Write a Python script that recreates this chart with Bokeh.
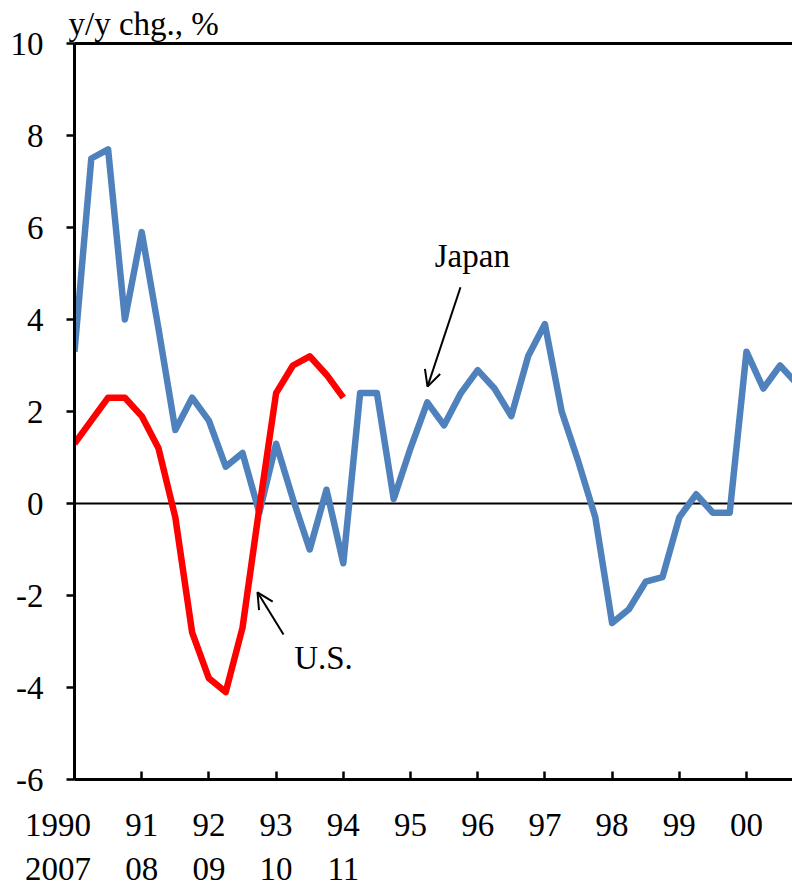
import numpy as np
from bokeh.plotting import figure
from bokeh.models import (Range1d, LinearAxis, FixedTicker, Span, Label, Arrow, OpenHead)
from bokeh.embed import file_html
from bokeh.resources import INLINE

# ---- data (y/y % change, quarterly) ----
japan_start = 1990
japan_vals = [3.3, 7.5, 7.7, 4.0,
              5.9, 3.8, 1.6, 2.3,
              1.8, 0.8, 1.1, -0.2,
              1.3, 0.1, -1.0, 0.3,
              -1.3, 2.4, 2.4, 0.1,
              1.2, 2.2, 1.7, 2.4,
              2.9, 2.5, 1.9, 3.2,
              3.9, 2.0, 0.9, -0.3,
              -2.6, -2.3, -1.7, -1.6,
              -0.3, 0.2, -0.2, -0.2,
              3.3, 2.5, 3.0, 2.6]
us_start = 2007
us_vals = [1.3, 1.8, 2.3, 2.3,
           1.9, 1.2, -0.3, -2.8,
           -3.8, -4.1, -2.7, -0.1,
           2.4, 3.0, 3.2, 2.8,
           2.3]
year_ticks = [1990, 1991, 1992, 1993, 1994, 1995, 1996, 1997, 1998, 1999, 2000]
japan_labels = ["1990", "91", "92", "93", "94", "95", "96", "97", "98", "99", "00"]
us_labels = ["2007", "08", "09", "10", "11"]
y_ticks = [-6, -4, -2, 0, 2, 4, 6, 8, 10]
y_labels = ["-6", "-4", "-2", "0", "2", "4", "6", "8", "10"]

FONT = "Liberation Serif"
FS = "33px"
NB = "\u00a0"

x_jp = japan_start + np.arange(len(japan_vals)) / 4.0
# U.S. series is plotted on the same axis, shifted so that 2007 sits at 1990
x_us = japan_start + np.arange(len(us_vals)) / 4.0

H = 889
p = figure(width=792, height=H, output_backend="svg", toolbar_location=None,
           x_range=Range1d(1990, 1990 + 718 / 67.2), y_range=Range1d(-6, 10),
           x_axis_type=None, y_axis_type=None,
           min_border_left=74, min_border_right=0, min_border_top=43, min_border_bottom=H - 779)
p.outline_line_color = None
p.xgrid.visible = False
p.ygrid.visible = False
p.background_fill_color = "white"

# unit label as title
p.title.text = "y/y chg., %"
p.title.text_font = FONT
p.title.text_font_size = FS
p.title.text_font_style = "normal"
p.title.text_color = "black"
p.title.align = "left"
p.title.offset = -6
p.title.standoff = 4

# left axis
yax = LinearAxis(ticker=FixedTicker(ticks=y_ticks))
yax.major_label_overrides = {t: s for t, s in zip(y_ticks, y_labels)}
yax.axis_line_width = 3
yax.axis_line_color = "black"
yax.major_tick_out = 8
yax.major_tick_in = 0
yax.major_tick_line_width = 2.5
yax.minor_tick_line_color = None
yax.major_label_text_font = FONT
yax.major_label_text_font_size = FS
yax.major_label_text_color = "black"
yax.major_label_standoff = 23
p.add_layout(yax, "left")

# bottom axis: Japan years (ticks inside)
xax = LinearAxis(ticker=FixedTicker(ticks=year_ticks))
labels1 = list(japan_labels)
labels1[0] = japan_labels[0] + NB * 4
xax.major_label_overrides = {t: s for t, s in zip(year_ticks, labels1)}
xax.axis_line_width = 3
xax.axis_line_color = "black"
xax.major_tick_in = 8
xax.major_tick_out = 0
xax.major_tick_line_width = 2.5
xax.minor_tick_line_color = None
xax.major_label_text_font = FONT
xax.major_label_text_font_size = FS
xax.major_label_text_color = "black"
xax.major_label_standoff = 27
p.add_layout(xax, "below")

# second row: U.S. years
us_ticks = year_ticks[:len(us_labels)]
xax2 = LinearAxis(ticker=FixedTicker(ticks=us_ticks))
labels2 = list(us_labels)
labels2[0] = us_labels[0] + NB * 4
xax2.major_label_overrides = {t: s for t, s in zip(us_ticks, labels2)}
xax2.axis_line_color = None
xax2.major_tick_line_color = None
xax2.minor_tick_line_color = None
xax2.major_tick_in = 0
xax2.major_tick_out = 0
xax2.major_label_text_font = FONT
xax2.major_label_text_font_size = FS
xax2.major_label_text_color = "black"
xax2.major_label_standoff = 5
p.add_layout(xax2, "below")

# top border
tax = LinearAxis(ticker=FixedTicker(ticks=[]))
tax.axis_line_width = 3
tax.axis_line_color = "black"
tax.major_tick_line_color = None
tax.minor_tick_line_color = None
tax.major_tick_in = 0
tax.major_tick_out = 0
tax.major_label_standoff = 0
tax.major_label_text_font_size = "1px"
p.add_layout(tax, "above")

# zero line
p.add_layout(Span(location=0, dimension="width", line_color="black", line_width=2, level="underlay"))

p.line(x_jp, japan_vals, line_color="#4F81BD", line_width=6.5, line_join="round")
p.line(x_us, us_vals, line_color="#FF0000", line_width=6.5, line_join="round")

# annotations
p.add_layout(Label(x=1995.92, y=5.37, text="Japan", text_align="center", text_baseline="middle",
                   text_font=FONT, text_font_size=FS, text_color="black"))
p.add_layout(Arrow(x_start=1995.744, y_start=4.70, x_end=1995.253, y_end=2.54,
                   line_width=2, line_color="black",
                   end=OpenHead(size=16, line_width=2, line_color="black")))
p.add_layout(Label(x=1993.705, y=-3.35, text="U.S.", text_align="center", text_baseline="middle",
                   text_font=FONT, text_font_size=FS, text_color="black"))
p.add_layout(Arrow(x_start=1993.11, y_start=-2.85, x_end=1992.723, y_end=-1.93,
                   line_width=2, line_color="black",
                   end=OpenHead(size=16, line_width=2, line_color="black")))

open("out.html", "w").write(file_html(p, INLINE))
